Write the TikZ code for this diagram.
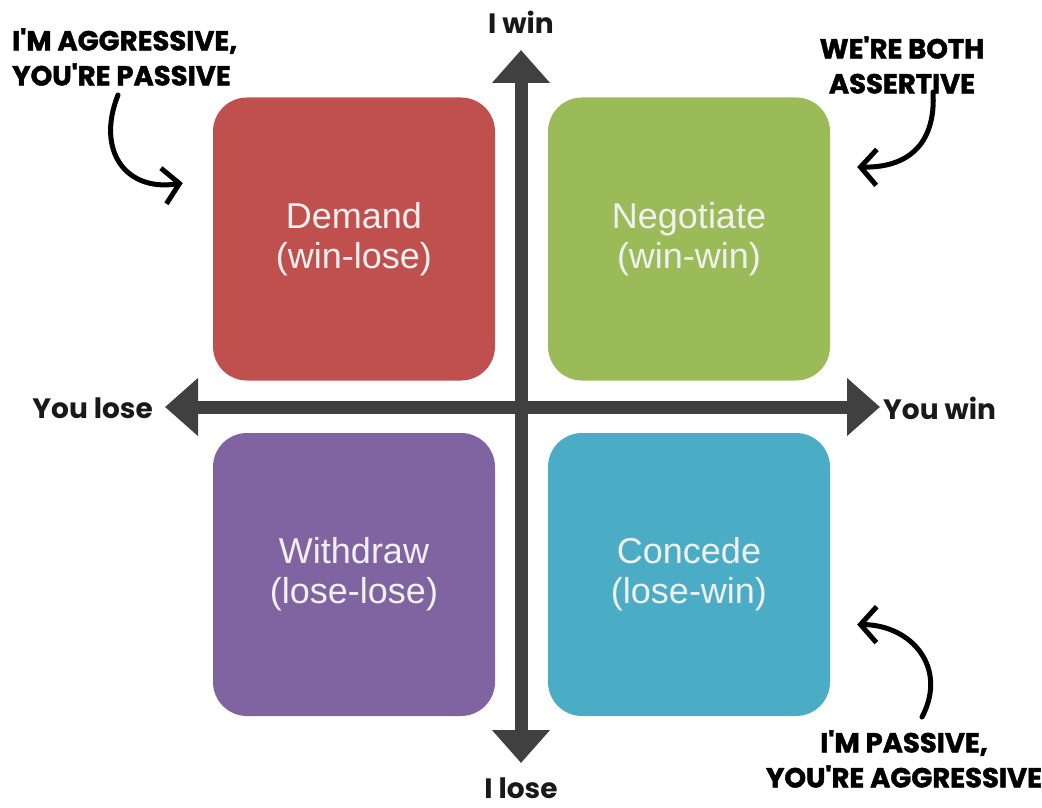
\documentclass[tikz,border=0pt]{standalone}
\usepackage{fontspec}
\setmainfont{Liberation Sans}
\newfontfamily\gothicfont{Poppins}
\newfontfamily\handfont{Poppins}[BoldFeatures={FakeBold=1.6}]
\usetikzlibrary{arrows.meta, positioning, calc}
\definecolor{demandred}{HTML}{C0504D}
\definecolor{negogreen}{HTML}{9BBB59}
\definecolor{withpurple}{HTML}{8064A2}
\definecolor{concblue}{HTML}{4BACC6}
\definecolor{axisgray}{HTML}{404040}
\begin{document}
\begin{tikzpicture}[
        x=1pt, y=-1pt,
        quad/.style={rectangle, rounded corners=34pt, minimum width=282pt, minimum height=283pt, inner sep=0pt, align=center, text=white!94!black, font=\fontsize{36}{40}\selectfont},
        axis/.style={line width=13pt, draw=axisgray, {Triangle[length=33pt, width=56pt]}-{Triangle[length=33pt, width=56pt]}},
        axlabel/.style={font=\gothicfont\bfseries\fontsize{28}{30}\selectfont, text=black!90, inner sep=0pt},
        note/.style={font=\handfont\bfseries\fontsize{27.5}{35}\selectfont, inner sep=0pt},
        curl/.style={line width=5pt, line cap=round, line join=round, -{Straight Barb[length=16pt, width=36pt]}}
    ]
        \useasboundingbox (0,0) rectangle (1042,808);
        \node[quad, fill=demandred] (demand) at (354,239) {Demand\\(win-lose)};
        \node[quad, fill=negogreen] (negotiate) at (689,239) {Negotiate\\(win-win)};
        \node[quad, fill=withpurple] (withdraw) at (354,574.5) {Withdraw\\(lose-lose)};
        \node[quad, fill=concblue] (concede) at (689,574.5) {Concede\\(lose-win)};
        \coordinate (wintip) at (521,50);
        \coordinate (losetip) at (521,763);
        \coordinate (lefttip) at (165,407);
        \coordinate (righttip) at (880,407);
        \draw[axis] (losetip) -- (wintip);
        \draw[axis] (lefttip) -- (righttip);
        \node[axlabel] (iwin) at (521,22) {I win};
        \node[axlabel] (ilose) at (521,788) {I lose};
        \node[axlabel, anchor=east] (youlose) at (153,408) {You lose};
        \node[axlabel, anchor=west] (youwin) at (883,408) {You win};
        \node[note, anchor=west, align=left] (aggr) at (12,57) {I'M AGGRESSIVE,\\YOU'RE PASSIVE};
        \node[note, align=center] (assert) at (902,65) {WE'RE BOTH\\ASSERTIVE};
        \node[note, align=center] (pass) at (904,759) {I'M PASSIVE,\\YOU'RE AGGRESSIVE};
        \draw[curl] (118,95) .. controls (96,150) and (125,192) .. ([xshift=-30pt, yshift=56pt]demand.west);
        \draw[curl] (933,92) .. controls (936,140) and (912,168) .. ([xshift=27pt, yshift=72pt]negotiate.east);
        \draw[curl] (922,717) .. controls (948,668) and (912,625) .. ([xshift=27pt, yshift=-50pt]concede.east);
    \end{tikzpicture}
\end{document}
